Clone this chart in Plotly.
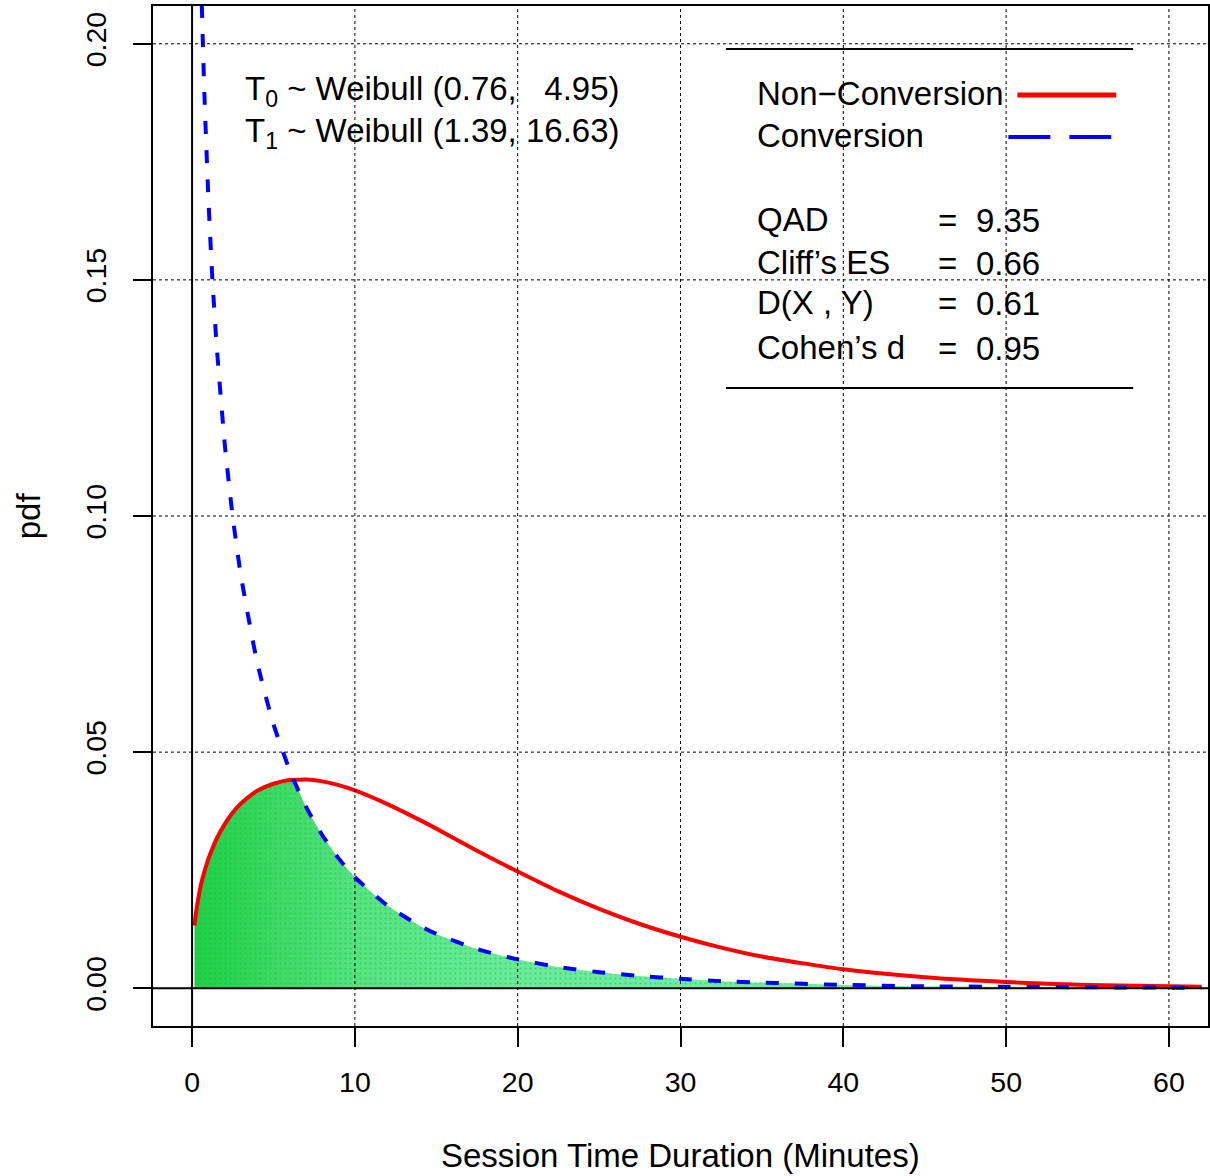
import plotly.graph_objects as go

# ---------------- data ----------------
x_grid = [0.15, 0.25, 0.5, 0.6, 0.75, 1, 1.25, 1.5, 2, 2.5, 3, 4, 5, 6, 6.2, 7, 8, 9,
          10, 12, 14, 15, 17.5, 20, 22.5, 25, 27.5, 30, 32.5, 35, 40, 45, 50, 55, 62]
non_conversion = [0.0133, 0.0162, 0.0212, 0.0227, 0.0246, 0.0274, 0.0296, 0.0316, 0.0347,
                  0.0372, 0.0391, 0.0418, 0.0433, 0.0441, 0.0441, 0.0442, 0.0438, 0.0430,
                  0.0419, 0.0390, 0.0356, 0.0338, 0.0291, 0.0247, 0.0205, 0.0168, 0.0136,
                  0.0109, 0.0086, 0.0067, 0.0040, 0.0023, 0.0013, 0.0007, 0.0003]
conversion = [0.331, 0.283, 0.223, 0.208, 0.190, 0.1675, 0.150, 0.1366, 0.1155, 0.0997,
              0.0874, 0.0690, 0.0559, 0.0461, 0.0444, 0.0384, 0.0324, 0.0275, 0.0235,
              0.0175, 0.0132, 0.0115, 0.0083, 0.0061, 0.0045, 0.0034, 0.0026, 0.0020,
              0.0015, 0.0012, 0.0007, 0.0004, 0.0003, 0.0002, 0.0001]
overlap = [min(a, b) for a, b in zip(non_conversion, conversion)]

x_ticks = [0, 10, 20, 30, 40, 50, 60]
y_ticks = [0.00, 0.05, 0.10, 0.15, 0.20]
y_tick_text = ["0.00", "0.05", "0.10", "0.15", "0.20"]

stat_names = ["QAD", "Cliff\u2019s ES", "D(X , Y)", "Cohen\u2019s d"]
stat_values = ["9.35", "0.66", "0.61", "0.95"]

FONT = "Liberation Sans, Arial, Helvetica, sans-serif"

# plot-area pixel geometry helpers
L, R, T, B = 153, 1210, 6, 1026
def px(x):
    return (x - L) / (R - L)
def py(y):
    return (B - y) / (B - T)

fig = go.Figure()

# overlap area: density of dark stipple fades with x
fig.add_trace(go.Scatter(
    x=x_grid, y=overlap, mode="lines", line=dict(width=0, shape="spline", smoothing=0.6),
    fill="tozeroy",
    fillgradient=dict(type="horizontal", start=0, stop=62,
                      colorscale=[[0.0, "rgb(30,206,70)"], [0.08, "rgb(60,216,100)"],
                                  [0.16, "rgb(86,226,130)"], [0.32, "rgb(106,234,155)"],
                                  [1.0, "rgb(120,238,170)"]]),
    hoverinfo="skip", showlegend=False))
fig.add_trace(go.Scatter(
    x=x_grid, y=overlap, mode="lines", line=dict(width=0, shape="spline", smoothing=0.6),
    fill="tozeroy", fillcolor="rgba(0,0,0,0)",
    fillpattern=dict(shape=".", bgcolor="rgba(0,0,0,0)", fgcolor="rgba(0,196,34,0.85)",
                     size=5, solidity=0.15),
    hoverinfo="skip", showlegend=False))

fig.add_trace(go.Scatter(
    x=x_grid, y=non_conversion, mode="lines", name="Non\u2212Conversion",
    line=dict(color="#FF0000", width=4, shape="spline", smoothing=0.6), showlegend=False))

fig.add_trace(go.Scatter(
    x=x_grid, y=conversion, mode="lines", name="Conversion",
    line=dict(color="#0000FF", width=4, dash="13px,16px", shape="spline", smoothing=0.6),
    showlegend=False))

shapes = []
for xv in x_ticks[1:]:
    shapes.append(dict(type="line", xref="x", yref="paper", x0=xv, x1=xv, y0=0, y1=1,
                       line=dict(color="black", width=1, dash="3px,3px"), layer="above"))
for yv in y_ticks[1:]:
    shapes.append(dict(type="line", xref="paper", yref="y", x0=0, x1=1, y0=yv, y1=yv,
                       line=dict(color="black", width=1, dash="3px,3px"), layer="above"))
# zero lines
shapes.append(dict(type="line", xref="x", yref="paper", x0=0, x1=0, y0=0, y1=1,
                   line=dict(color="black", width=2), layer="above"))
shapes.append(dict(type="line", xref="paper", yref="y", x0=0, x1=1, y0=0, y1=0,
                   line=dict(color="black", width=2), layer="above"))
# legend box top / bottom rules
for yy in (49, 388):
    shapes.append(dict(type="line", xref="paper", yref="paper", x0=px(727), x1=px(1135),
                       y0=py(yy), y1=py(yy), line=dict(color="black", width=2), layer="above"))
# legend samples
shapes.append(dict(type="line", xref="paper", yref="paper", x0=px(1019), x1=px(1118),
                   y0=py(95), y1=py(95), line=dict(color="#FF0000", width=5), layer="above"))
shapes.append(dict(type="line", xref="paper", yref="paper", x0=px(1010), x1=px(1113),
                   y0=py(137), y1=py(137), line=dict(color="#0000FF", width=4, dash="42px,19px"),
                   layer="above"))

ann = []
def text(x, y, s, size=33, xanchor="left", textangle=0):
    ann.append(dict(x=px(x), y=py(y), xref="paper", yref="paper", text=s, showarrow=False,
                    xanchor=xanchor, yanchor="middle", textangle=textangle,
                    font=dict(family=FONT, size=size, color="black")))

text(243, 91, "T<sub>0</sub> ~ Weibull (0.76,\u00a0\u00a0\u00a04.95)")
text(243, 133, "T<sub>1</sub> ~ Weibull (1.39, 16.63)")
text(756, 93, "Non\u2212Conversion")
text(756, 135, "Conversion")
stat_y = [219, 262, 303, 347]
for name, val, yy in zip(stat_names, stat_values, stat_y):
    text(756, yy, name)
    text(949, yy + 1, "=", xanchor="center")
    text(976, yy + 1, val)

text(681, 1155, "Session Time Duration (Minutes)", size=33, xanchor="center")
text(28, 516, "pdf", size=33, xanchor="center", textangle=-90)

fig.update_layout(
    width=1210, height=1176,
    margin=dict(l=L, r=1210 - R, t=T, b=1176 - B),
    paper_bgcolor="white", plot_bgcolor="white",
    font=dict(family=FONT, color="black"),
    shapes=shapes, annotations=ann, showlegend=False,
    xaxis=dict(range=[-2.4, 62.4], tickvals=x_ticks, ticks="outside", ticklen=19, tickwidth=1.5,
               tickcolor="black", showline=True, linewidth=2, linecolor="black", mirror=True,
               showgrid=False, zeroline=False, tickfont=dict(size=28.5, family=FONT),
               ticklabelstandoff=11),
    yaxis=dict(range=[-0.008, 0.208], tickvals=y_ticks, ticktext=y_tick_text, ticks="outside",
               ticklen=18, tickwidth=1.5, tickcolor="black", showline=True, linewidth=2,
               linecolor="black", mirror=True, showgrid=False, zeroline=False,
               tickangle=-90, tickfont=dict(size=28.5, family=FONT), ticklabelstandoff=16),
)

fig.write_html("out.html")
